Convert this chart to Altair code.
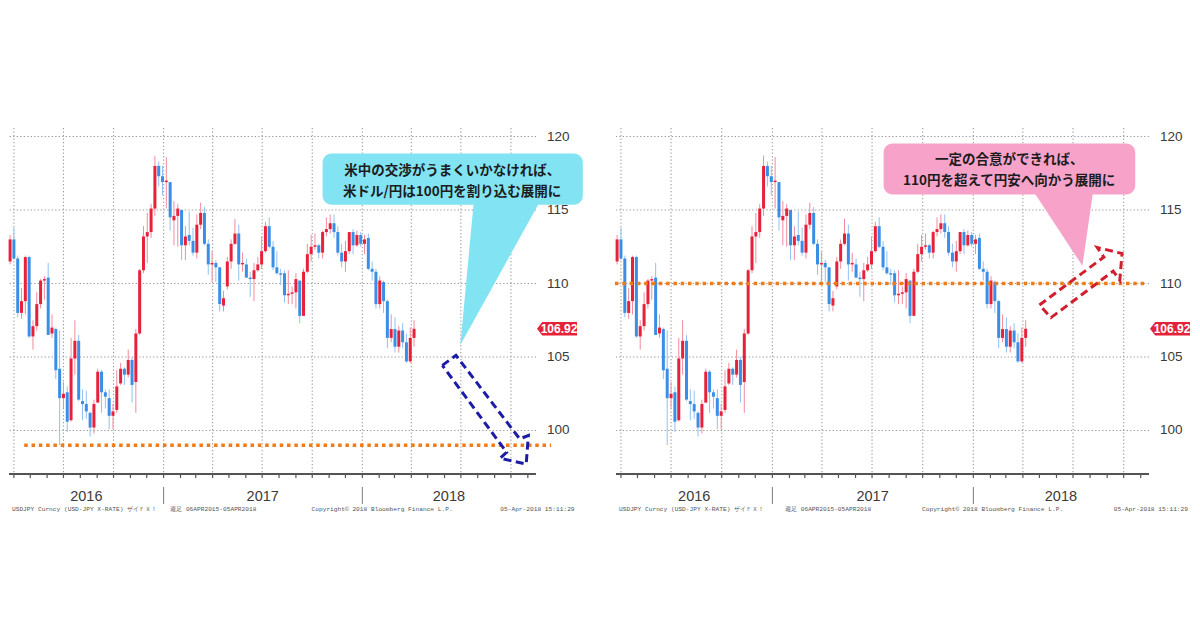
import altair as alt
import pandas as pd

# ---------------- data (weekly USD/JPY candles) ----------------
week_end = pd.date_range("2016-03-25", periods=107, freq="7D").strftime("%Y-%m-%d").tolist()

opens = [111.5, 113.0, 111.7, 108.0, 108.8, 111.8, 106.4, 107.1, 108.6, 110.2, 110.4, 106.6, 106.9, 104.2,
         102.2, 102.6, 100.7, 104.9, 106.1, 102.0, 101.8, 101.2, 100.2, 101.9, 104.0, 102.6, 102.2, 101.0,
         101.4, 103.2, 104.2, 103.8, 104.8, 103.3, 106.6, 110.9, 113.2, 113.5, 115.1, 118.0, 117.3,
         116.9, 116.9, 114.3, 114.6, 115.0, 112.6, 113.3, 112.9, 112.1, 114.0, 114.8, 112.7, 111.3, 111.4,
         111.1, 108.5, 109.8, 111.5, 112.7, 113.4, 111.3, 111.3, 110.4, 110.3, 110.9, 111.3, 112.2, 113.9,
         112.5, 111.1, 110.7, 110.7, 109.2, 109.3, 109.4, 110.2, 107.8, 110.8, 112.0, 112.5, 112.6, 112.1,
         113.5, 113.7, 114.1, 113.5, 112.1, 111.5, 112.2, 113.5, 112.6, 113.3,
         112.7, 113.1, 111.0, 110.8, 108.6, 110.1, 108.8, 106.3, 106.9, 105.7, 106.8, 106.0, 104.7, 106.3]
highs = [113.3, 113.8, 111.9, 109.7, 111.9, 111.9, 107.5, 109.4, 110.3, 110.5, 111.4, 107.9, 107.0, 106.8,
         103.3, 103.0, 106.3, 107.5, 106.5, 102.8, 102.7, 101.3, 102.1, 104.2, 104.1, 102.8, 102.8, 101.8,
         104.1, 104.6, 104.3, 105.5, 105.0, 106.9, 111.0, 113.9, 114.8, 115.4, 118.7, 118.3, 118.0,
         118.6, 116.9, 115.6, 115.4, 115.0, 113.9, 114.9, 113.8, 114.7, 115.5, 115.2, 113.0, 112.2, 111.6,
         111.1, 109.5, 111.8, 113.0, 114.4, 114.0, 112.1, 111.7, 110.8, 111.4, 111.8, 113.2, 114.2, 114.5,
         112.9, 112.2, 111.0, 110.9, 110.9, 109.8, 110.7, 110.2, 111.0, 112.7, 113.3, 113.4, 112.7, 113.6,
         114.5, 114.7, 114.7, 113.9, 112.7, 112.9, 113.5, 113.7, 113.6, 113.5,
         113.3, 113.4, 111.5, 111.0, 110.5, 110.2, 108.9, 107.9, 107.7, 107.1, 107.3, 106.6, 107.0, 107.5]
lows = [111.3, 111.6, 107.7, 107.6, 107.9, 106.3, 105.5, 106.8, 108.3, 108.9, 106.5, 106.3, 103.5, 99.0,
        101.5, 99.9, 100.6, 103.8, 102.0, 100.7, 100.8, 99.6, 99.8, 101.9, 101.2, 101.5, 100.1, 100.1,
        101.2, 103.1, 103.1, 103.6, 101.9, 101.2, 106.5, 110.7, 111.4, 113.1, 114.6, 116.6, 116.0,
        115.1, 113.6, 112.6, 112.5, 111.6, 111.6, 112.6, 111.9, 111.7, 113.7, 112.6, 110.6, 110.1, 110.1,
        108.1, 108.1, 109.6, 111.0, 112.6, 110.2, 110.8, 110.4, 109.1, 108.8, 110.8, 111.0, 112.1, 112.4,
        110.9, 110.6, 109.9, 108.7, 108.6, 108.6, 108.3, 107.3, 107.8, 110.7, 111.5, 112.3, 111.7, 111.7,
        113.2, 113.4, 113.1, 111.9, 111.1, 110.8, 112.0, 112.0, 112.5, 112.5,
        112.0, 110.9, 110.2, 108.3, 108.3, 108.0, 105.6, 106.0, 105.3, 105.3, 105.6, 104.6, 104.6, 105.7]
closes = [113.0, 111.7, 108.0, 108.8, 111.8, 106.4, 107.1, 108.6, 110.2, 110.3, 106.5, 107.0, 104.1, 102.2,
          102.5, 100.6, 104.9, 106.1, 102.1, 101.8, 101.3, 100.2, 101.8, 104.0, 102.6, 102.3, 101.0, 101.3,
          103.0, 104.2, 103.8, 104.8, 103.1, 106.6, 110.9, 113.2, 113.5, 115.1, 118.0, 117.3, 116.9,
          117.0, 114.5, 114.6, 115.1, 112.6, 113.2, 112.9, 112.1, 114.0, 114.8, 112.7, 111.3, 111.4, 111.1,
          108.6, 109.0, 111.5, 112.7, 113.4, 111.3, 111.4, 110.4, 110.3, 110.9, 111.3, 112.2, 113.9, 112.5,
          111.1, 110.7, 110.6, 109.2, 109.3, 109.4, 110.3, 107.8, 110.8, 112.0, 112.5, 112.6, 112.1, 113.5,
          113.7, 114.1, 113.5, 112.1, 111.5, 112.2, 113.5, 112.6, 113.3, 112.7,
          113.0, 111.0, 110.8, 108.6, 110.2, 108.8, 106.3, 106.9, 105.7, 106.8, 106.0, 104.7, 106.3, 106.92]

last_price = 106.92
y_ticks = [100, 105, 110, 115, 120]
year_labels = ["2016", "2017", "2018"]
year_starts = ["2017-01-01", "2018-01-01"]
left_level = 99.0
right_level = 110.0

left_text = ["米中の交渉がうまくいかなければ、", "米ドル/円は100円を割り込む展開に"]
right_text = ["一定の合意ができれば、", "110円を超えて円安へ向かう展開に"]
footer_src = "USDJPY Curncy (USD-JPY X-RATE) ザイＦＸ！"
footer_span = "週足 06APR2015-05APR2018"
footer_copy = "Copyright© 2018 Bloomberg Finance L.P."
footer_time = "05-Apr-2018 15:11:29"

# annotation shapes, in (date, price) terms
left_box = {"x1": "2017-10-20", "x2": "2019-02-10", "y1": 118.84, "y2": 115.36}
left_tail = {"y": [115.7, 105.82], "xl": ["2018-07-25", "2018-06-30"], "xr": ["2018-11-25", "2018-06-30"]}
left_text_pos = {"x": "2018-06-15", "y": [117.68, 116.25]}
left_arrow_x = ["2018-05-28", "2018-06-22", "2018-10-17", "2018-11-02", "2018-10-29", "2018-09-11", "2018-09-23", "2018-05-28"]
left_arrow_y = [104.43, 105.11, 99.43, 99.66, 97.72, 98.11, 98.52, 104.43]

right_box = {"x1": "2017-07-22", "x2": "2018-10-22", "y1": 119.52, "y2": 116.05}
right_tail = {"y": [116.4, 111.2], "xl": ["2018-04-18", "2018-07-18"], "xr": ["2018-08-07", "2018-07-18"]}
right_text_pos = {"x": "2018-03-07", "y": [118.43, 117.0]}
right_arrow_x = ["2018-05-01", "2018-08-26", "2018-08-14", "2018-09-28", "2018-09-24", "2018-09-12", "2018-05-22", "2018-05-01"]
right_arrow_y = [108.54, 111.80, 112.45, 112.04, 110.23, 110.84, 107.68, 108.54]

# ---------------- styling ----------------
RED, BLUE = "#E8213B", "#3A8EE6"
RED_W, BLUE_W = "#F28C9C", "#92C1F2"
ORANGE = "#F07B17"
GRID = "#9a9a9a"
AXIS = "#555555"
CYAN, PINK = "#82E3F2", "#F7A3C9"
NAVY, CRIMSON = "#1C1CA6", "#D01F2E"
BADGE = "#E4223A"
NARROW = "Liberation Sans Narrow, Arial Narrow, Liberation Sans, Arial, sans-serif"
JP = "Noto Sans CJK JP"
MONO = "Liberation Mono, DejaVu Sans Mono, monospace"

D0, D1 = "2016-03-23", "2018-11-16"


def ms(s):
    return int(pd.Timestamp(s).value // 10**6)


XDOM = [ms(D0), ms(D1)]
YDOM = [97.04, 120.58]
H = 346
REF_W = 533

cdf = pd.DataFrame({"date": week_end, "open": opens, "high": highs, "low": lows, "close": closes})
qdf = pd.DataFrame({"q": pd.date_range("2016-04-01", "2018-10-01", freq="QS").strftime("%Y-%m-%d")})
mdf = pd.DataFrame({"m": pd.date_range("2016-04-01", "2018-11-01", freq="MS").strftime("%Y-%m-%d")})
gdf = pd.DataFrame({"v": y_ticks, "lbl": [str(v) for v in y_ticks]})

t0, t17, t18, t1 = (pd.Timestamp(s) for s in [D0, "2017-01-01", "2018-01-01", D1])
ydf = pd.DataFrame({"t": year_labels,
                    "x": [(t0 + (t17 - t0) / 2).strftime("%Y-%m-%d"),
                          (t17 + (t18 - t17) / 2).strftime("%Y-%m-%d"),
                          (t18 + (t1 - t18) / 2).strftime("%Y-%m-%d")]})
sdf = pd.DataFrame({"d": year_starts})
bdf = pd.DataFrame({"p": [last_price], "lbl": [f"{last_price:.2f}"]})

BADGE_PATH = "M-1,0L-0.74,-0.34L1,-0.34L1,0.34L-0.74,0.34Z"


def xenc(field):
    return alt.X(f"{field}:T", scale=alt.Scale(type="utc", domain=XDOM), axis=None)


def yenc(field):
    return alt.Y(f"{field}:Q", scale=alt.Scale(domain=YDOM, nice=False, zero=False), axis=None)


def panel(width, variant):
    k = width / REF_W
    up = "datum.close >= datum.open"
    layers = []
    # grid
    layers.append(alt.Chart(qdf).mark_rule(color=GRID, strokeWidth=1.1, strokeDash=[1.3, 2.2])
                  .encode(x=xenc("q")))
    layers.append(alt.Chart(gdf).mark_rule(color=GRID, strokeWidth=1.1, strokeDash=[1.3, 2.2])
                  .encode(y=yenc("v")))
    # price labels on the right
    layers.append(alt.Chart(gdf).mark_text(font=NARROW, fontSize=13.5, color="#3a3a3a",
                                           align="left", baseline="middle")
                  .encode(x=alt.value(width + 11), y=yenc("v"), text="lbl:N"))
    # time axis line and monthly ticks
    layers.append(alt.Chart(mdf).mark_rule(color=AXIS, strokeWidth=1.5)
                  .encode(x=alt.value(0), x2=alt.value(width), y=alt.value(H)))
    layers.append(alt.Chart(mdf).mark_rule(color=AXIS, strokeWidth=1.2)
                  .encode(x=xenc("m"), y=alt.value(H), y2=alt.value(H + 4)))

    # candles
    layers.append(alt.Chart(cdf).mark_rule(strokeWidth=1).encode(
        x=xenc("date"), y=yenc("low"), y2=alt.Y2("high"),
        color=alt.condition(up, alt.value(RED_W), alt.value(BLUE_W))))
    layers.append(alt.Chart(cdf).mark_rule(strokeWidth=3, strokeCap="butt").encode(
        x=xenc("date"), y=yenc("open"), y2=alt.Y2("close"),
        color=alt.condition(up, alt.value(RED), alt.value(BLUE))))

    if variant == "left":
        ldf = pd.DataFrame({"p": [left_level], "s": ["2016-04-20"]})
        layers.append(alt.Chart(ldf).mark_rule(color=ORANGE, strokeWidth=3.5, strokeDash=[3.5, 3.8])
                      .encode(x=xenc("s"), x2=alt.value(width + 15), y=yenc("p")))
        box, tail, tpos, txt, col = left_box, left_tail, left_text_pos, left_text, CYAN
        ax, ay, acol = left_arrow_x, left_arrow_y, NAVY
    else:
        ldf = pd.DataFrame({"p": [right_level]})
        layers.append(alt.Chart(ldf).mark_rule(color=ORANGE, strokeWidth=3.5, strokeDash=[3.5, 3.8])
                      .encode(x=alt.value(-1), x2=alt.value(width - 2), y=yenc("p")))
        box, tail, tpos, txt, col = right_box, right_tail, right_text_pos, right_text, PINK
        ax, ay, acol = right_arrow_x, right_arrow_y, CRIMSON

    layers.append(alt.Chart(pd.DataFrame(tail)).mark_area(orient="horizontal", color=col, opacity=1)
                  .encode(y=yenc("y"), x=xenc("xl"), x2=alt.X2("xr")))
    layers.append(alt.Chart(pd.DataFrame([box])).mark_rect(cornerRadius=9, color=col, opacity=1)
                  .encode(x=xenc("x1"), x2=alt.X2("x2"), y=yenc("y1"), y2=alt.Y2("y2")))
    tdf = pd.DataFrame({"t": txt, "x": [tpos["x"]] * 2, "y": tpos["y"]})
    layers.append(alt.Chart(tdf).mark_text(font=JP, fontSize=13.5, fontWeight="bold", color="#1c1c1c")
                  .encode(x=xenc("x"), y=yenc("y"), text="t:N"))
    adf = pd.DataFrame({"x": ax, "y": ay, "i": list(range(len(ax)))})
    layers.append(alt.Chart(adf).mark_line(color=acol, strokeWidth=3, strokeDash=[8, 4.5], strokeJoin="miter")
                  .encode(x=xenc("x"), y=yenc("y"), order="i:Q"))

    # last price badge
    layers.append(alt.Chart(bdf).mark_point(shape=BADGE_PATH, size=1600, filled=True, color=BADGE, opacity=1)
                  .encode(x=alt.value(width + 21), y=yenc("p")))
    layers.append(alt.Chart(bdf).mark_text(font=NARROW, fontSize=12, fontWeight="bold", color="white")
                  .encode(x=alt.value(width + 23), y=yenc("p"), text="lbl:N"))

    # year labels and separators
    layers.append(alt.Chart(ydf).mark_text(font=NARROW, fontSize=14.5, color="#3a3a3a")
                  .encode(x=xenc("x"), y=alt.value(H + 23), text="t:N"))
    layers.append(alt.Chart(sdf).mark_rule(color="#7a7a7a", strokeWidth=1)
                  .encode(x=xenc("d"), y=alt.value(H + 13), y2=alt.value(H + 30)))

    # footer
    fdf = pd.DataFrame({"a": [footer_src], "b": [footer_span], "c": [footer_copy], "d": [footer_time]})
    span_x = 163 if variant == "left" else 169
    for field, px, al in [("a", 3, "left"), ("b", span_x, "left"), ("c", 306, "left"), ("d", 572, "right")]:
        layers.append(alt.Chart(fdf).mark_text(font=MONO, fontSize=6.2, color="#555555", align=al)
                      .encode(x=alt.value(px * k), y=alt.value(H + 35), text=f"{field}:N"))

    return alt.layer(*layers).properties(width=width, height=H)


chart = (alt.hconcat(panel(527, "left"), panel(533, "right"), spacing=80, bounds="flush")
         .properties(padding={"left": 0, "right": 0, "top": 119, "bottom": 0})
         .configure_view(strokeWidth=0, stroke="transparent"))

chart.save("out.html", embed_options={"renderer": "svg", "actions": False})
